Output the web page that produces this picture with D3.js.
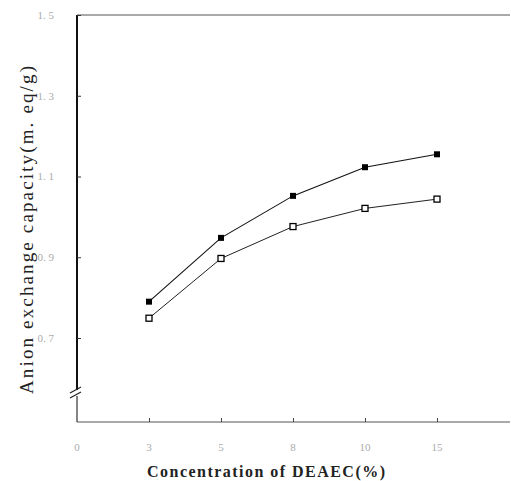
<!DOCTYPE html>
<html>
<head>
<meta charset="utf-8">
<script src="https://cdn.jsdelivr.net/npm/d3@7"></script>
<style>
  body { margin: 0; background: #fff; }
  svg { display: block; }
</style>
</head>
<body>
<div id="chart"></div>
<script>
// concentration categories (x axis)
const categories = ['0', '3', '5', '8', '10', '15'];
const yTicks = [0.7, 0.9, 1.1, 1.3, 1.5];
const yTickLabels = ['0. 7', '0. 9', '1. 1', '1. 3', '1. 5'];

// capacity values for 3..15 %
const filledSeries = [0.79, 0.948, 1.052, 1.123, 1.155];
const openSeries = [0.749, 0.897, 0.976, 1.021, 1.044];

const width = 511, height = 481;
const plotLeft = 77, plotBottom = 422, plotTop = 15;

const svg = d3.select('#chart').append('svg')
  .attr('width', width)
  .attr('height', height);

// scales
const x = d3.scaleLinear().domain([0, 5]).range([plotLeft, 437]);
const y = d3.scaleLinear().domain([0.7, 1.5]).range([338, plotTop]);

// top frame line
svg.append('line')
  .attr('x1', plotLeft).attr('x2', 510)
  .attr('y1', plotTop).attr('y2', plotTop)
  .attr('stroke', '#555').attr('stroke-width', 1);

// x axis line
svg.append('line')
  .attr('x1', plotLeft).attr('x2', 510)
  .attr('y1', plotBottom).attr('y2', plotBottom)
  .attr('stroke', '#555').attr('stroke-width', 1);

// y axis, with a break near the bottom
svg.append('line')
  .attr('x1', plotLeft).attr('x2', plotLeft)
  .attr('y1', plotTop).attr('y2', 390)
  .attr('stroke', '#111').attr('stroke-width', 2);
svg.append('line')
  .attr('x1', plotLeft).attr('x2', plotLeft)
  .attr('y1', 396).attr('y2', plotBottom)
  .attr('stroke', '#333').attr('stroke-width', 1.2);
[0, 5].forEach(off => {
  svg.append('line')
    .attr('x1', plotLeft - 7).attr('x2', plotLeft + 4)
    .attr('y1', 393 + off).attr('y2', 387 + off)
    .attr('stroke', '#222').attr('stroke-width', 1.2);
});

// y ticks (inside)
const yAxis = svg.append('g')
  .attr('transform', `translate(${plotLeft},0)`)
  .call(d3.axisRight(y).tickValues(yTicks).tickSize(4).tickFormat(''));
yAxis.select('.domain').remove();
yAxis.selectAll('.tick line').attr('stroke', '#333');

svg.append('g').selectAll('text')
  .data(yTicks)
  .enter().append('text')
  .attr('x', 54)
  .attr('y', d => y(d))
  .attr('dy', '0.35em')
  .attr('text-anchor', 'end')
  .attr('font-family', 'Liberation Serif, serif')
  .attr('font-size', 11)
  .attr('fill', '#aaa')
  .style('white-space', 'pre')
  .text((d, i) => yTickLabels[i]);

// x ticks (inside)
const xAxis = svg.append('g')
  .attr('transform', `translate(0,${plotBottom})`)
  .call(d3.axisTop(x).tickValues([1, 2, 3, 4, 5]).tickSize(4).tickFormat(''));
xAxis.select('.domain').remove();
xAxis.selectAll('.tick line').attr('stroke', '#444');

svg.append('g').selectAll('text')
  .data(categories)
  .enter().append('text')
  .attr('x', (d, i) => x(i))
  .attr('y', 447)
  .attr('dy', '0.35em')
  .attr('text-anchor', 'middle')
  .attr('font-family', 'Liberation Serif, serif')
  .attr('font-size', 11)
  .attr('fill', '#aaa')
  .text(d => d);

// axis titles
svg.append('text')
  .attr('x', 266).attr('y', 477)
  .attr('text-anchor', 'middle')
  .attr('font-family', 'Liberation Serif, serif')
  .attr('font-size', 16)
  .attr('font-weight', 'bold')
  .attr('fill', '#222')
  .attr('textLength', 238)
  .text('Concentration of DEAEC(%)');

svg.append('text')
  .attr('transform', 'translate(33,230) rotate(-90)')
  .attr('text-anchor', 'middle')
  .attr('font-family', 'Liberation Serif, serif')
  .attr('font-size', 19)
  .attr('fill', '#222')
  .attr('textLength', 328)
  .text('Anion exchange capacity(m. eq/g)');

// lines
const line = d3.line()
  .x((d, i) => x(i + 1))
  .y(d => y(d));

svg.append('path')
  .datum(filledSeries)
  .attr('fill', 'none')
  .attr('stroke', '#111')
  .attr('stroke-width', 1.1)
  .attr('d', line);

svg.append('path')
  .datum(openSeries)
  .attr('fill', 'none')
  .attr('stroke', '#222')
  .attr('stroke-width', 1)
  .attr('d', line);

// markers
const s = 6;
svg.append('g').selectAll('rect')
  .data(filledSeries)
  .enter().append('rect')
  .attr('x', (d, i) => x(i + 1) - s / 2)
  .attr('y', d => y(d) - s / 2)
  .attr('width', s).attr('height', s)
  .attr('fill', '#000');

svg.append('g').selectAll('rect')
  .data(openSeries)
  .enter().append('rect')
  .attr('x', (d, i) => x(i + 1) - s / 2)
  .attr('y', d => y(d) - s / 2)
  .attr('width', s).attr('height', s)
  .attr('fill', '#fff')
  .attr('stroke', '#000')
  .attr('stroke-width', 1.3);
</script>
</body>
</html>
